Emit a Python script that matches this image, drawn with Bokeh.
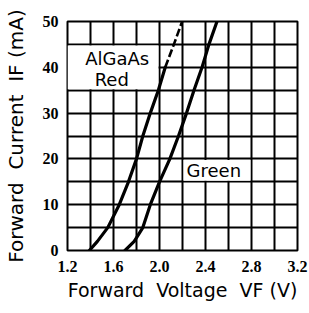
from bokeh.plotting import figure
from bokeh.models import FixedTicker, Label
from bokeh.embed import file_html
from bokeh.resources import INLINE

# ---- data ----
red_current_solid = [0, 2, 5, 10, 15, 20, 25, 30, 35, 40]
red_voltage_solid = [1.39, 1.46, 1.55, 1.65, 1.73, 1.80, 1.855, 1.92, 1.99, 2.05]
red_current_dashed = [40, 45, 50]
red_voltage_dashed = [2.05, 2.125, 2.197]
green_current = [0, 2, 5, 10, 15, 20, 25, 30, 35, 40, 45, 50]
green_voltage = [1.70, 1.78, 1.855, 1.92, 2.00, 2.09, 2.165, 2.235, 2.30, 2.37, 2.43, 2.50]

x_ticks = [1.2, 1.6, 2.0, 2.4, 2.8, 3.2]
x_grid = [1.2, 1.4, 1.6, 1.8, 2.0, 2.2, 2.4, 2.6, 2.8, 3.0, 3.2]
y_ticks = [0, 10, 20, 30, 40, 50]
y_grid = [0, 5, 10, 15, 20, 25, 30, 35, 40, 45, 50]

NB = "\u00a0"

p = figure(width=309, height=308,
           x_range=(1.2, 3.2), y_range=(0, 50),
           output_backend="svg", toolbar_location=None,
           min_border_left=67, min_border_right=12,
           min_border_top=21, min_border_bottom=58)

p.background_fill_color = "white"
p.border_fill_color = "white"
p.outline_line_color = "black"
p.outline_line_width = 2

for g, t in ((p.xgrid[0], x_grid), (p.ygrid[0], y_grid)):
    g.ticker = FixedTicker(ticks=t)
    g.grid_line_color = "black"
    g.grid_line_width = 2
    g.grid_line_alpha = 1.0

p.xaxis.ticker = FixedTicker(ticks=x_ticks)
p.yaxis.ticker = FixedTicker(ticks=y_ticks)
p.xaxis.major_label_overrides = {v: f"{v:.1f}" for v in x_ticks}

for ax in (p.xaxis[0], p.yaxis[0]):
    ax.axis_line_color = None
    ax.major_tick_line_color = None
    ax.minor_tick_line_color = None
    ax.major_tick_in = 0
    ax.major_tick_out = 0
    ax.major_label_text_font = "Liberation Serif"
    ax.major_label_text_font_size = "16px"
    ax.major_label_text_font_style = "bold"
    ax.major_label_text_color = "black"
    ax.axis_label_text_font = "DejaVu Sans"
    ax.axis_label_text_font_style = "normal"
    ax.axis_label_text_color = "black"

p.xaxis.axis_label_text_font_size = "19px"
p.yaxis.axis_label_text_font_size = "20px"
p.xaxis.axis_label = f"Forward{NB} Voltage{NB} VF (V)"
p.yaxis.axis_label = f"Forward{NB} Current{NB} IF (mA)"
p.xaxis.major_label_standoff = 10
p.xaxis.axis_label_standoff = 4
p.yaxis.major_label_standoff = 9
p.yaxis.axis_label_standoff = 12

# white label boxes (cover the grid)
p.quad(left=[1.2], right=[1.991], bottom=[35.22], top=[44.78],
       fill_color="white", line_color=None)
p.quad(left=[2.209], right=[2.791], bottom=[15.22], top=[19.78],
       fill_color="white", line_color=None)

# curves
p.line(red_voltage_solid, red_current_solid, line_color="black", line_width=3.2, line_cap="round")
p.line(red_voltage_dashed, red_current_dashed, line_color="black", line_width=2.6, line_dash="8 3")
p.line(green_voltage, green_current, line_color="black", line_width=3.2, line_cap="round")

for txt, x, y in (("AlGaAs", 1.632, 42.0), ("Red", 1.585, 37.3), ("Green", 2.472, 17.4)):
    p.add_layout(Label(x=x, y=y, text=txt, text_font="DejaVu Sans", text_font_size="18px",
                       text_align="center", text_baseline="middle", text_color="black"))

open("out.html", "w").write(file_html(p, INLINE))
